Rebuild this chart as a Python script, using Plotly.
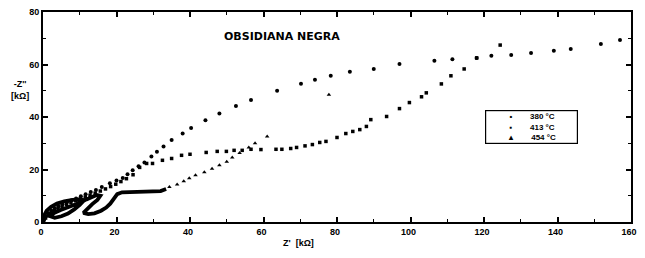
import plotly.graph_objects as go

# ---- data ----
x_380 = [0.3, 0.8, 1.5, 2.3, 3.2, 4.2, 5.3, 6.5, 7.7, 9.0, 10.3, 11.6, 13.0, 14.4, 16.0, 18.2, 20.0, 21.7,
         23.0, 24.4, 26.0, 27.6, 29.5, 31.0, 32.8, 35.0, 38.0, 40.3, 44.2, 48.0, 52.5, 56.6, 63.7, 70.2,
         74.0, 78.3, 83.5, 90.0, 97.0, 106.5, 111.4, 118.0, 122.0, 127.4, 132.8, 139.0, 143.6, 151.8, 157.0]
y_380 = [1.0, 2.2, 3.3, 4.3, 5.2, 6.0, 6.8, 7.5, 8.2, 9.0, 9.8, 10.6, 11.4, 12.2, 13.3, 14.8, 15.8, 16.8,
         18.2, 19.7, 21.2, 22.7, 25.0, 26.8, 28.8, 31.2, 33.7, 35.8, 38.8, 41.3, 44.2, 46.5, 50.0, 52.7,
         54.2, 55.7, 57.2, 58.3, 60.2, 61.4, 62.0, 62.5, 63.3, 63.6, 64.4, 65.2, 65.9, 67.8, 69.3]

x_413 = [0.2, 0.7, 1.4, 2.2, 3.1, 4.1, 5.2, 6.4, 7.6, 8.9, 10.2, 11.5, 12.8, 14.2, 15.6, 17.0, 18.4, 19.8,
         21.2, 22.7, 24.5, 26.3, 28.2, 29.8, 32.5, 35.0, 37.7, 40.0, 44.4, 47.4, 49.9, 52.0, 54.2, 56.6,
         59.3, 63.4, 65.0, 67.4, 69.0, 71.3, 73.3, 75.3, 77.0, 80.0, 82.4, 84.3, 86.2, 88.0, 89.2, 93.5,
         97.0, 99.7, 103.0, 104.3, 108.4, 111.0, 114.6, 118.0, 124.4]
y_413 = [0.6, 1.5, 2.5, 3.4, 4.3, 5.1, 5.9, 6.7, 7.4, 8.1, 8.8, 9.5, 10.2, 11.0, 11.8, 12.6, 13.5, 14.4,
         15.4, 16.5, 18.0, 20.8, 22.3, 22.3, 23.5, 24.2, 25.4, 25.8, 26.5, 26.9, 26.9, 27.3, 27.3, 27.7,
         27.6, 27.7, 27.7, 28.0, 28.4, 29.0, 29.5, 30.3, 30.7, 32.2, 33.7, 34.5, 35.2, 36.4, 39.0, 40.2,
         43.2, 45.5, 47.7, 49.2, 52.6, 55.7, 58.3, 62.5, 67.4]

# 454 °C: dense looping low-frequency part (appears as a solid trace) and sparse points
x_454_dense = [0.0, 0.3, 1.0, 2.2, 3.8, 5.8, 8.0, 10.0, 11.2, 10.0, 8.5, 6.8, 5.0, 3.2, 2.0, 3.0, 4.8,
               6.8, 8.6, 10.2, 11.8, 13.2, 14.6, 15.6, 14.8, 13.4, 12.0, 11.0, 12.3, 14.0, 15.8, 17.2,
               18.3, 19.2, 20.2, 21.5, 24.0, 27.0, 30.0, 32.0, 33.5]
y_454_dense = [0.0, 2.5, 4.3, 5.8, 7.0, 7.9, 8.4, 8.6, 8.3, 6.5, 4.8, 3.2, 2.2, 1.6, 2.2, 3.4, 4.6,
               5.6, 6.5, 7.4, 8.6, 9.6, 10.3, 10.0, 8.4, 6.8, 5.0, 3.5, 3.0, 3.3, 4.3, 5.5,
               7.0, 8.8, 10.6, 11.3, 11.4, 11.3, 11.4, 11.8, 12.6]
x_454 = [34.4, 36.5, 38.3, 39.8, 41.5, 43.9, 46.0, 48.0, 50.0, 51.5, 53.5, 56.0, 57.7, 61.0, 77.8]
y_454 = [13.3, 14.3, 15.5, 16.7, 17.8, 19.0, 20.3, 21.6, 23.0, 24.6, 26.3, 28.4, 30.0, 32.6, 48.5]

x_ticks = [0, 20, 40, 60, 80, 100, 120, 140, 160]
y_ticks = [0, 20, 40, 60, 80]
legend_labels = ["380 °C", "413 °C", "454 °C"]
title_text = "OBSIDIANA NEGRA"
x_title = "Z'&nbsp;&nbsp;[kΩ]"
y_title = "-Z''<br>[kΩ]"

fig = go.Figure()
fig.add_trace(go.Scatter(x=x_454_dense, y=y_454_dense, mode="lines",
                         line=dict(color="black", width=3.8), showlegend=False, hoverinfo="skip"))
fig.add_trace(go.Scatter(x=x_380, y=y_380, mode="markers", name=legend_labels[0],
                         marker=dict(symbol="circle", size=4, color="black")))
fig.add_trace(go.Scatter(x=x_413, y=y_413, mode="markers", name=legend_labels[1],
                         marker=dict(symbol="square", size=3.5, color="black")))
fig.add_trace(go.Scatter(x=x_454, y=y_454, mode="markers", name=legend_labels[2],
                         marker=dict(symbol="triangle-up", size=4, color="black")))

axis_common = dict(
    showgrid=False, zeroline=False, showline=True, linecolor="black", linewidth=2,
    mirror="ticks", ticks="inside", ticklen=5, tickwidth=1.5, tickcolor="black",
    automargin=False, ticklabeloverflow="allow",
    tickfont=dict(family="Liberation Sans, Arial", size=9, color="black", weight="bold"),
)
fig.update_xaxes(range=[0, 160], tickvals=x_ticks, ticklabelshift=-2,
                 minor=dict(ticks="inside", dtick=10, ticklen=3, tickcolor="black", tickwidth=1),
                 **axis_common)
fig.update_yaxes(range=[0, 80], tickvals=y_ticks,
                 minor=dict(ticks="inside", dtick=10, ticklen=3, tickcolor="black", tickwidth=1),
                 **axis_common)

leg_lead = "&nbsp;" * 10
leg_gap = "&nbsp;" * 8
leg_tail = "&nbsp;" * 9
legend_text = "<br>".join(
    leg_lead + sym + leg_gap + lab + leg_tail
    for sym, lab in zip(["•", "▪", "▴"], legend_labels)
)

# the page body adds an 8px offset, so the figure is sized/margined to compensate
fig.update_layout(
    width=629, height=242,
    margin=dict(l=35, r=6, t=4, b=28),
    paper_bgcolor="white", plot_bgcolor="white",
    showlegend=False,
    font=dict(family="Liberation Sans, Arial", color="black"),
    annotations=[
        dict(text=title_text, x=64.9, y=70.5, xref="x", yref="y", showarrow=False,
             font=dict(family="DejaVu Sans", size=11, color="black", weight="bold")),
        dict(text=x_title, x=0.434, y=0, xref="paper", yref="paper", yshift=-21,
             xanchor="center", yanchor="middle",
             showarrow=False, font=dict(size=9, color="black", weight="bold")),
        dict(text=y_title, x=0, y=0.63, xref="paper", yref="paper", xshift=-23,
             xanchor="center", yanchor="middle",
             showarrow=False, font=dict(size=9, color="black", weight="bold"), align="center"),
        dict(text=legend_text,
             x=0.752, y=0.533, xref="paper", yref="paper", xanchor="left", yanchor="top",
             showarrow=False, align="left", bordercolor="black", borderwidth=1.2, borderpad=1,
             bgcolor="white", font=dict(size=8, color="black", weight="bold")),
    ],
)

fig.write_html("out.html")
